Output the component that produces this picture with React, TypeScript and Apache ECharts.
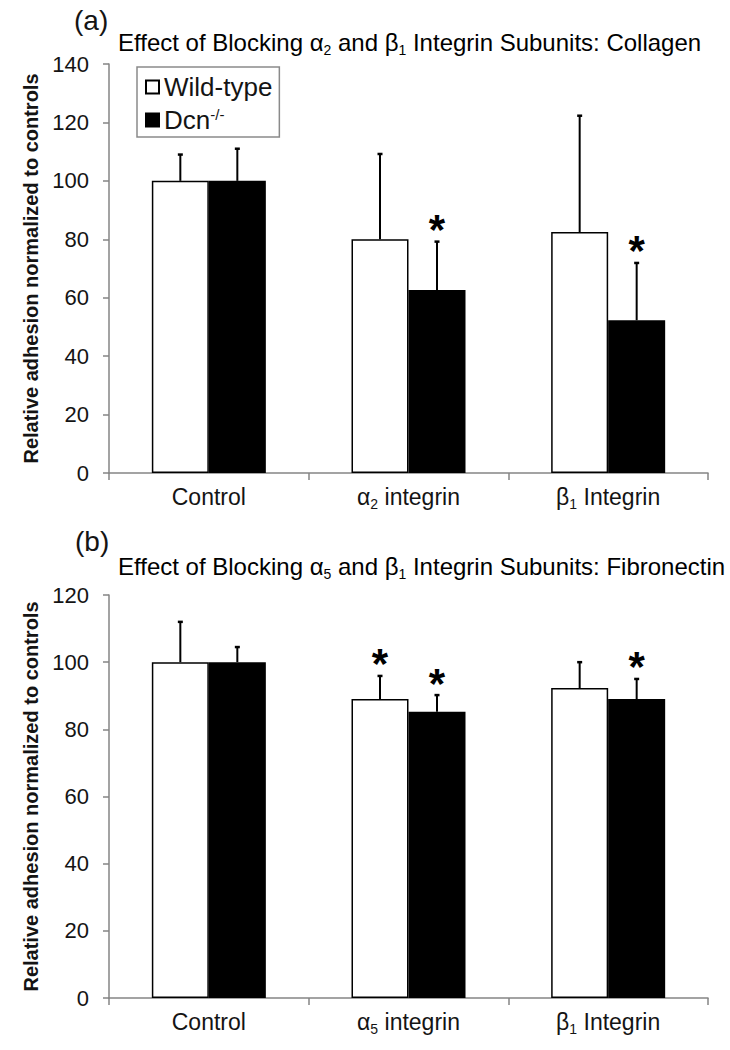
import React, { useEffect, useRef } from "react";
import * as echarts from "echarts";

// ---------- data ----------
const seriesNames = ["Wild-type", "Dcn-/-"];

const categoriesA = ["Control", "α2 integrin", "β1 Integrin"];
const wildTypeA = [100, 80, 82.5];
const wildTypeErrA = [9, 29.2, 39.8];
const dcnA = [100, 62.6, 52.3];
const dcnErrA = [11, 16.6, 19.6];
const sigWildTypeA = [false, false, false];
const sigDcnA = [false, true, true];

const categoriesB = ["Control", "α5 integrin", "β1 Integrin"];
const wildTypeB = [100, 89, 92.3];
const wildTypeErrB = [12, 6.9, 7.7];
const dcnB = [100, 85.2, 89];
const dcnErrB = [4.5, 5, 6];
const sigWildTypeB = [false, true, false];
const sigDcnB = [false, true, true];

const yTicksA = { min: 0, max: 140, interval: 20 };
const yTicksB = { min: 0, max: 120, interval: 20 };

const titleA = "Effect of Blocking α2 and β1 Integrin Subunits: Collagen";
const titleB = "Effect of Blocking α5 and β1 Integrin Subunits: Fibronectin";
const yName = "Relative adhesion normalized to controls";

// ---------- styles ----------
const FONT = "'Liberation Sans', Arial, Helvetica, sans-serif";
const TEXT = "#141414";
const AXIS = "#858585";
const BAR_W = 57;

const richify = (s: string) =>
  "{t|" + s.replace(/([αβ])(\d)/g, "}{g|$1}{sub|$2}{t|") + "}";

const richStyles = (size: number) => ({
  t: { fontSize: size, fontFamily: FONT, color: TEXT, lineHeight: size + 5 },
  g: { fontSize: size, fontFamily: FONT, color: TEXT, lineHeight: size + 5 },
  sub: { fontSize: Math.round(size * 0.6), fontFamily: FONT, color: TEXT, verticalAlign: "bottom", lineHeight: Math.round(size * 0.6) },
});

function errSeries(name: string, axisIdx: number, vals: number[], errs: number[], sigs: boolean[], side: number) {
  return {
    type: "custom",
    name,
    xAxisIndex: axisIdx,
    yAxisIndex: axisIdx,
    silent: true,
    z: 5,
    data: vals.map((v, i) => [i, v, errs[i], sigs[i] ? 1 : 0]),
    encode: { x: 0, y: 1 },
    renderItem: (_p: any, api: any) => {
      const i = api.value(0);
      const v = api.value(1);
      const e = api.value(2);
      const s = api.value(3);
      const base = api.coord([i, v]);
      const top = api.coord([i, v + e]);
      const x = base[0] + (side * BAR_W) / 2;
      const children: any[] = [
        { type: "line", shape: { x1: x, y1: base[1], x2: x, y2: top[1] }, style: { stroke: "#000", lineWidth: 2 } },
        { type: "line", shape: { x1: x - 2.5, y1: top[1], x2: x + 2.5, y2: top[1] }, style: { stroke: "#000", lineWidth: 2.5 } },
      ];
      if (s) {
        children.push({
          type: "text",
          x,
          y: top[1] - 12,
          style: { text: "*", fontSize: 42, fontWeight: "bold", fontFamily: FONT, fill: "#000", align: "center", verticalAlign: "middle" },
        });
      }
      return { type: "group", children };
    },
  };
}

function xAxisFor(idx: number, cats: string[]) {
  return {
    type: "category",
    gridIndex: idx,
    data: cats,
    axisLine: { show: true, lineStyle: { color: AXIS, width: 1.5 } },
    axisTick: { show: true, length: 7, alignWithLabel: false, lineStyle: { color: AXIS, width: 1.5 } },
    axisLabel: { margin: 10, formatter: (v: string) => richify(v), rich: richStyles(23) },
  };
}

function yAxisFor(idx: number, t: { min: number; max: number; interval: number }) {
  return {
    type: "value",
    gridIndex: idx,
    min: t.min,
    max: t.max,
    interval: t.interval,
    splitLine: { show: false },
    axisLine: { show: true, lineStyle: { color: AXIS, width: 1.5 } },
    axisTick: { show: true, length: 6, lineStyle: { color: AXIS, width: 1.5 } },
    axisLabel: { fontSize: 22, fontFamily: FONT, color: TEXT, margin: 20 },
    name: yName,
    nameLocation: "middle",
    nameGap: 68,
    nameTextStyle: { fontSize: 20, fontWeight: "bold", fontFamily: FONT, color: TEXT },
  };
}

function barSeries(name: string, idx: number, vals: number[], fill: string) {
  return {
    type: "bar",
    name,
    xAxisIndex: idx,
    yAxisIndex: idx,
    data: vals,
    barWidth: BAR_W,
    barGap: "0%",
    itemStyle: { color: fill, borderColor: "#000", borderWidth: 1.5 },
    z: 3,
  };
}

export default function App() {
  const ref = useRef<HTMLDivElement>(null);
  useEffect(() => {
    if (!ref.current) return;
    const chart = echarts.init(ref.current, undefined, { renderer: "svg" });
    const titleRich = richStyles(24);
    chart.setOption({
      animation: false,
      backgroundColor: "#fff",
      textStyle: { fontFamily: FONT },
      grid: [
        { left: 109, top: 64, width: 599, height: 409 },
        { left: 109, top: 595, width: 599, height: 403 },
      ],
      legend: {
        data: seriesNames,
        orient: "vertical",
        left: 137,
        top: 67,
        padding: [7, 7, 4, 8],
        itemGap: 7,
        itemWidth: 13,
        itemHeight: 13,
        icon: "rect",
        borderColor: "#8a8a8a",
        borderWidth: 1.5,
        backgroundColor: "#fff",
        selectedMode: false,
        formatter: (n: string) => (n === "Dcn-/-" ? "{m|Dcn}{sup|-/-}" : "{m|" + n + "}"),
        textStyle: {
          rich: {
            m: { fontSize: 26, fontFamily: FONT, color: TEXT, lineHeight: 26 },
            sup: { fontSize: 15, fontFamily: FONT, color: TEXT, verticalAlign: "top", lineHeight: 12 },
          },
        },
      },
      xAxis: [xAxisFor(0, categoriesA), xAxisFor(1, categoriesB)],
      yAxis: [yAxisFor(0, yTicksA), yAxisFor(1, yTicksB)],
      graphic: [
        { type: "text", left: 74, top: 6, style: { text: "(a)", fontSize: 28, fontFamily: FONT, fill: TEXT } },
        { type: "text", left: 75, top: 527, style: { text: "(b)", fontSize: 28, fontFamily: FONT, fill: TEXT } },
        { type: "text", left: 118, top: 30, style: { text: richify(titleA), rich: titleRich } },
        { type: "text", left: 118, top: 554, style: { text: richify(titleB), rich: titleRich } },
      ],
      series: [
        barSeries(seriesNames[0], 0, wildTypeA, "#fff"),
        barSeries(seriesNames[1], 0, dcnA, "#000"),
        barSeries(seriesNames[0], 1, wildTypeB, "#fff"),
        barSeries(seriesNames[1], 1, dcnB, "#000"),
        errSeries("errWA", 0, wildTypeA, wildTypeErrA, sigWildTypeA, -1),
        errSeries("errDA", 0, dcnA, dcnErrA, sigDcnA, 1),
        errSeries("errWB", 1, wildTypeB, wildTypeErrB, sigWildTypeB, -1),
        errSeries("errDB", 1, dcnB, dcnErrB, sigDcnB, 1),
      ],
    });
    return () => chart.dispose();
  }, []);
  return <div ref={ref} style={{ position: "absolute", left: 0, top: 0, width: 730, height: 1050 }} />;
}
